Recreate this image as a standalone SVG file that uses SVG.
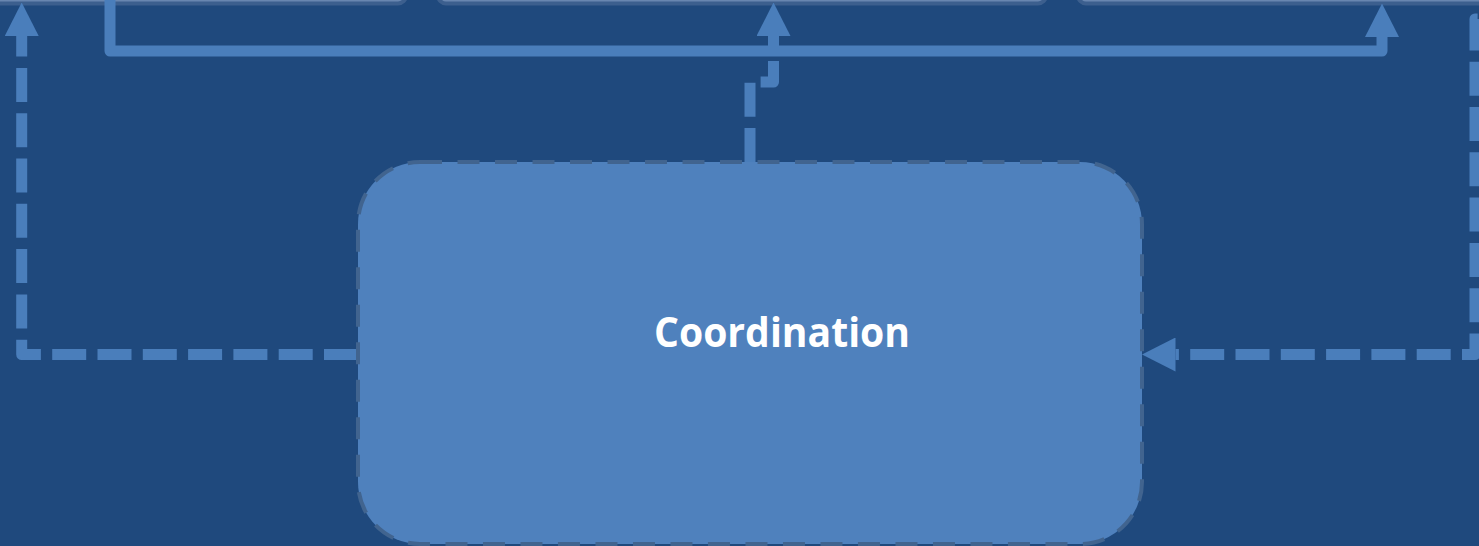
<svg xmlns="http://www.w3.org/2000/svg" width="1479" height="546" viewBox="0 0 1479 546">
<style>
.top{fill:#6886b0;stroke:#3c5f8e;stroke-width:4}
.conn{fill:none;stroke:#4A7EBB;stroke-width:11;stroke-linejoin:round}
.dash{stroke-dasharray:34 11.3}
.coord{fill:#4F81BD;stroke:#41648f;stroke-width:4;stroke-dasharray:22 15.5}
.lbl{font-family:"Open Sans","Liberation Sans",sans-serif;font-weight:700;font-size:41px;fill:#ffffff}
</style>
<defs>
<marker id="ah" viewBox="0 0 33.5 34" refX="0" refY="17" markerWidth="33.5" markerHeight="34" markerUnits="userSpaceOnUse" orient="auto">
<path d="M0,0 L33.5,17 L0,34 Z" fill="#4A7EBB"/>
</marker>
</defs>
<rect width="1479" height="546" fill="#1F497D"/>
<g id="box-top-1"><rect class="top" x="-60" y="-100" width="466" height="103.5" rx="8"/></g>
<g id="box-top-2"><rect class="top" x="438" y="-100" width="608" height="103.5" rx="8"/></g>
<g id="box-top-3"><rect class="top" x="1078" y="-100" width="460" height="103.5" rx="8"/></g>
<g id="connectors">
<path class="conn" d="M110,0 V51 H1382 V37" marker-end="url(#ah)"/>
<path class="conn dash" d="M750,162 V82 H773.5 V36" marker-end="url(#ah)"/>
<path class="conn dash" d="M358,354.5 H21.7 V36" marker-end="url(#ah)"/>
<path class="conn dash" stroke-dashoffset="-7.1" d="M1530,19 H1475 V354.5 H1175.5" marker-end="url(#ah)"/>
</g>
<g id="coordination">
<rect class="coord" x="358" y="162" width="784" height="382" rx="62"/>
<text class="lbl" x="782" y="347" text-anchor="middle" textLength="256" lengthAdjust="spacingAndGlyphs">Coordination</text>
</g>
</svg>
